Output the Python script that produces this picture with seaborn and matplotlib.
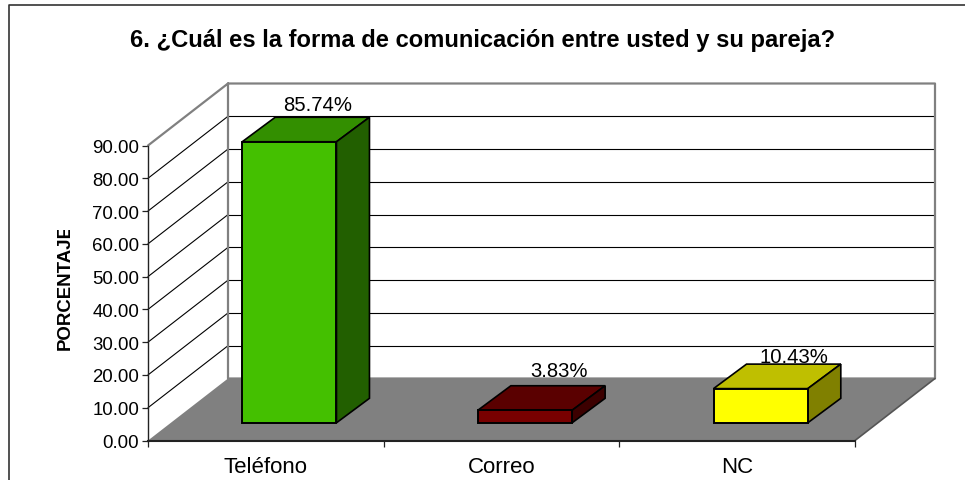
import matplotlib
matplotlib.use("Agg")
import matplotlib.pyplot as plt
import seaborn as sns
import pandas as pd
from matplotlib.patches import Polygon
from matplotlib.lines import Line2D
from matplotlib.transforms import Bbox

categories = ["Teléfono", "Correo", "NC"]
values = [85.74, 3.83, 10.43]
value_labels = ["85.74%", "3.83%", "10.43%"]
front_colors = ["#44C000", "#780000", "#FFFF00"]
top_colors = ["#338F00", "#5A0000", "#BFBF00"]
side_colors = ["#225F00", "#3C0000", "#808000"]
y_ticks = [0, 10, 20, 30, 40, 50, 60, 70, 80, 90]
title = "6. ¿Cuál es la forma de comunicación entre usted y su pareja?"
y_title = "PORCENTAJE"

sns.set_style("white")
plt.rcParams["font.family"] = ["Liberation Sans", "DejaVu Sans"]
plt.rcParams["text.color"] = "black"
plt.rcParams["xtick.color"] = "black"
plt.rcParams["ytick.color"] = "black"

W, H = 965, 481
fig = plt.figure(figsize=(W / 100, H / 100), dpi=100, facecolor="white")
L, R, B, T = 148, 855, 441.5, 146.5
ax = fig.add_axes([L / W, 1 - B / H, (R - L) / W, (B - T) / H])

df = pd.DataFrame({"cat": categories, "val": values})
sns.barplot(data=df, x="cat", y="val", hue="cat", palette=front_colors, saturation=1,
            width=0.4, legend=False, ax=ax, edgecolor="black", linewidth=1.4, zorder=6, clip_on=False)
ax.set_xlim(-0.5, 2.5)
ax.set_ylim(0, 90)

# pixel -> data scale for the oblique projection
px_x = (R - L) / 3
px_y = (B - T) / 90
wall_dx, wall_dy = 80 / px_x, 62 / px_y
base_dx, base_dy = 23.5 / px_x, 17.7 / px_y
bar_dx, bar_dy = 33 / px_x, 24.5 / px_y
ymax = y_ticks[-1]
GREY = "#808080"

# floor, left wall, back wall
ax.add_patch(Polygon([(-0.5, 0), (2.5, 0), (2.5 + wall_dx, wall_dy), (-0.5 + wall_dx, wall_dy)],
                     closed=True, fc=GREY, ec="none", clip_on=False, zorder=2))
ax.add_line(Line2D([2.5, 2.5 + wall_dx], [0, wall_dy], color="#555555", lw=1.2, clip_on=False, zorder=2.5))
for t in y_ticks[1:-1]:
    ax.add_line(Line2D([-0.5, -0.5 + wall_dx], [t, t + wall_dy], color="black", lw=0.8, clip_on=False, zorder=1))
    ax.add_line(Line2D([-0.5 + wall_dx, 2.5 + wall_dx], [t + wall_dy, t + wall_dy], color="black", lw=0.8,
                       clip_on=False, zorder=1))
ax.add_line(Line2D([-0.5, -0.5 + wall_dx, 2.5 + wall_dx, 2.5 + wall_dx, -0.5 + wall_dx, -0.5 + wall_dx],
                   [ymax, ymax + wall_dy, ymax + wall_dy, wall_dy, wall_dy, ymax + wall_dy],
                   color=GREY, lw=1.6, clip_on=False, zorder=1.5))

# raise the seaborn bars onto the floor and add their 3-D faces
label_off = [(28, 13), (34, 15), (33, 8)]
bars = sorted([p for c in ax.containers for p in c], key=lambda b: b.get_x())
for i, p in enumerate(bars):
    p.set_x(p.get_x() + base_dx)
    p.set_y(base_dy)
    x0, x1 = p.get_x(), p.get_x() + p.get_width()
    y0, y1 = base_dy, base_dy + p.get_height()
    ax.add_patch(Polygon([(x0, y1), (x1, y1), (x1 + bar_dx, y1 + bar_dy), (x0 + bar_dx, y1 + bar_dy)],
                         closed=True, fc=top_colors[i], ec="black", lw=1.2, clip_on=False, zorder=5))
    ax.add_patch(Polygon([(x1, y0), (x1 + bar_dx, y0 + bar_dy), (x1 + bar_dx, y1 + bar_dy), (x1, y1)],
                         closed=True, fc=side_colors[i], ec="black", lw=1.2, clip_on=False, zorder=5))
    xc = (x0 + x1) / 2
    ax.annotate(value_labels[i], (xc, y1 + bar_dy), xytext=(label_off[i][0] * 0.72, label_off[i][1] * 0.72),
                textcoords="offset points", ha="center", va="center", fontsize=14.6, color="black",
                zorder=4, annotation_clip=False)

# axes
sns.despine(ax=ax, top=True, right=True)
for s in ("left", "bottom"):
    ax.spines[s].set_color("#222222")
    ax.spines[s].set_zorder(3)
ax.spines["bottom"].set_linewidth(1.5)
ax.spines["left"].set_linewidth(1.0)
ax.set_yticks(y_ticks)
ax.set_yticklabels([f"{t:.2f}" for t in y_ticks], fontsize=13.4)
ax.set_xticks(range(3))
ax.set_xticklabels(categories, fontsize=16)
ax.set_xticks([-0.5, 0.5, 1.5, 2.5], minor=True)
ax.tick_params(axis="x", which="major", length=0, pad=11)
ax.tick_params(axis="x", which="minor", length=4, width=0.9, color="#222222", bottom=True)
ax.tick_params(axis="y", length=4, width=0.9, color="#222222", pad=2.4, left=True)
ax.set_xlabel("")
ax.set_ylabel("")
ax.patch.set_alpha(0)

yt = fig.text(65.5 / W, 1 - 287 / H, y_title, rotation=90, ha="center", va="center", fontsize=13.4, fontweight="bold")
yt.set_clip_box(Bbox([[0, 0], [W, H - 231]]))
yt.set_clip_on(True)
fig.text(483 / W, 1 - 40 / H, title, ha="center", va="center", fontsize=17.1, fontweight="bold")

# chart frame
bx, by = 9 / W, 1 - 6 / H
fig.add_artist(Line2D([bx, bx, 1], [0, by, by], color="#333333", lw=1.2, transform=fig.transFigure))

fig.savefig("out.png", dpi=100, facecolor="white")
